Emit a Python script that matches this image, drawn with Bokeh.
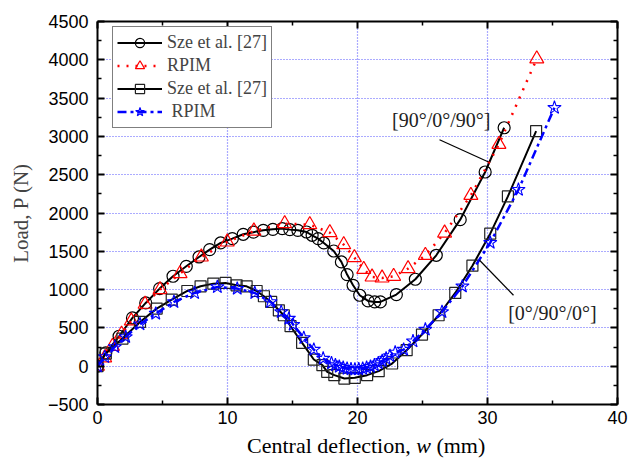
from bokeh.plotting import figure
from bokeh.layouts import column
from bokeh.models import (Label, Legend, LegendItem, LinearAxis, FixedTicker,
                          Range1d, Div, CustomLabelingPolicy)
from bokeh.embed import file_html
from bokeh.resources import INLINE

# ---- data ----
sze_a_x = [0, 0.64, 1.66, 2.69, 3.71, 4.78, 5.81, 6.83, 7.81, 8.63, 9.47, 10.37,
           11.21, 12.0, 12.75, 13.49, 14.21, 14.79, 15.41, 16.08, 16.51, 16.97,
           17.41, 18.17, 18.76, 19.2, 19.66, 20.17, 20.81, 21.32, 21.76, 22.99,
           24.45, 26.06, 27.9, 29.82, 31.28]
sze_a_y = [0, 174, 391, 630, 826, 1013, 1174, 1304, 1426, 1522, 1609, 1665,
           1722, 1750, 1774, 1787, 1796, 1783, 1774, 1752, 1709, 1665,
           1609, 1504, 1361, 1196, 1056, 926, 852, 839, 839, 935,
           1135, 1448, 1913, 2535, 3113]

rpim_a_x = [0, 0.55, 1.15, 1.85, 2.6, 3.66, 4.81, 6.35, 7.99, 9.98, 12.03, 14.4,
            16.33, 17.87, 18.94, 19.76, 20.48, 21.12, 21.89, 22.78, 23.89, 25.22,
            26.7, 28.72, 30.88, 33.79]
rpim_a_y = [0, 110, 260, 420, 591, 809, 1000, 1209, 1426, 1622, 1765, 1861,
            1848, 1744, 1587, 1418, 1265, 1165, 1152, 1174, 1274, 1448,
            1739, 2230, 2896, 4013]

sze_b_x = [0, 0.64, 1.92, 3.27, 4.55, 5.71, 6.91, 7.93, 8.91, 9.85, 10.7, 11.47,
           12.24, 12.8, 13.36, 13.95, 14.33, 14.85, 15.74, 16.64, 17.3, 17.67,
           18.22, 18.99, 19.79, 20.74, 21.63, 22.66, 23.78, 24.96, 26.24, 27.52,
           28.84, 30.21, 31.57, 33.74]
sze_b_y = [0, 165, 361, 578, 752, 870, 982, 1043, 1078, 1087, 1056, 1043,
           982, 913, 839, 730, 665, 522, 304, 87, 13, -74,
           -117, -161, -152, -117, -65, 35, 209, 413, 665, 956,
           1312, 1730, 2217, 3069]

rpim_b_x = [0, 0.56, 1.33, 2.17, 3.27, 4.48, 5.88, 7.47, 9.22, 10.75, 12.1, 13.31,
            14.13, 14.72, 15.05, 15.87, 16.64, 17.36, 18.0, 18.3, 18.6, 18.9,
            19.2, 19.5, 19.8, 20.1, 20.4, 20.7, 21.0, 21.3, 21.6, 21.9, 22.2,
            22.5, 22.9, 23.55, 24.27, 25.22, 26.5, 28.07, 30.21, 32.38, 35.15]
rpim_b_y = [0, 121, 252, 383, 548, 687, 839, 956, 1035, 1013, 956, 839,
            709, 622, 543, 369, 217, 100, 40, 15, -5, -20,
            -32, -40, -43, -40, -32, -20, -5, 15, 40, 70, 100,
            135, 180, 217, 326, 479, 709, 1043, 1613, 2304, 3374]

legend_labels = ["Sze et al. [27]", "RPIM", "Sze et al. [27]", " RPIM"]

x_ticks = [0, 10, 20, 30, 40]
x_minor = [5, 15, 25, 35]
y_ticks = [-500, 0, 500, 1000, 1500, 2000, 2500, 3000, 3500, 4000, 4500]
y_minor = [-250, 250, 750, 1250, 1750, 2250, 2750, 3250, 3750, 4250]

note_a_text = "[90°/0°/90°]"
note_a_pos = (22.66, 3209)
note_a_line_x = [26.31, 30.08]
note_a_line_y = [2956, 2665]
note_b_text = "[0°/90°/0°]"
note_b_pos = (31.59, 691)
note_b_line_x = [29.39, 32.0]
note_b_line_y = [1383, 926]

serif = "Liberation Serif"
sans = "Liberation Sans"

p = figure(width=635, height=434, output_backend="svg", toolbar_location=None,
           x_range=Range1d(0, 40), y_range=Range1d(-500, 4500),
           min_border_left=97, min_border_right=18, min_border_top=21,
           min_border_bottom=30, x_axis_location=None, y_axis_location=None)
p.outline_line_color = None
p.background_fill_color = "white"

hide_labels = CustomLabelingPolicy(
    code="const all = [...indices]; for (const i of all) indices.unset(i); return indices")


def style_axis(ax, ticks, minor, labels=True):
    ax.ticker = FixedTicker(ticks=ticks, minor_ticks=minor)
    ax.axis_line_width = 2
    ax.axis_line_color = "black"
    ax.major_tick_in = 7
    ax.major_tick_out = 0
    ax.minor_tick_in = 4
    ax.minor_tick_out = 0
    ax.major_tick_line_width = 2
    ax.minor_tick_line_width = 1.5
    ax.major_tick_line_color = "black"
    ax.minor_tick_line_color = "black"
    ax.major_label_text_font = sans
    ax.major_label_text_font_size = "18px"
    ax.major_label_text_color = "black"
    if not labels:
        ax.major_label_policy = hide_labels
        ax.major_label_text_font_size = "0px"
        ax.major_label_standoff = 0


xb = LinearAxis()
style_axis(xb, x_ticks, x_minor)
xb.major_label_standoff = 6
p.add_layout(xb, "below")

yl = LinearAxis(axis_label="Load, P (N)")
style_axis(yl, y_ticks, y_minor)
yl.major_label_standoff = 9
yl.axis_label_text_font = serif
yl.axis_label_text_font_style = "normal"
yl.axis_label_text_font_size = "21px"
yl.axis_label_standoff = 12
p.add_layout(yl, "left")

xt = LinearAxis()
style_axis(xt, x_ticks, x_minor, labels=False)
p.add_layout(xt, "above")

yr = LinearAxis()
style_axis(yr, y_ticks, y_minor, labels=False)
p.add_layout(yr, "right")

p.xgrid.ticker = FixedTicker(ticks=[10, 20, 30])
p.ygrid.ticker = FixedTicker(ticks=y_ticks[1:-1])
for g in (p.xgrid, p.ygrid):
    g.grid_line_color = "#1f1fff"
    g.grid_line_dash = "1 2"
    g.grid_line_width = 1.2
    g.grid_line_alpha = 0.75

# series
l1 = p.line(sze_a_x, sze_a_y, line_color="black", line_width=2)
m1 = p.scatter(sze_a_x, sze_a_y, marker="circle", size=12, line_color="black",
               fill_alpha=0.0, line_width=1.2)
l2 = p.line(rpim_a_x, rpim_a_y, line_color="red", line_width=2.5, line_dash="2 7")
m2 = p.scatter(rpim_a_x, rpim_a_y, marker="triangle", size=14, line_color="red",
               fill_alpha=0.0, line_width=1.2)
l3 = p.line(sze_b_x, sze_b_y, line_color="black", line_width=2)
m3 = p.scatter(sze_b_x, sze_b_y, marker="square", size=11, line_color="#222222",
               fill_alpha=0.0, line_width=1.2)
l4 = p.line(rpim_b_x, rpim_b_y, line_color="blue", line_width=2.5,
            line_dash="9 4 3 4")
m4 = p.scatter(rpim_b_x, rpim_b_y, marker="star", size=14, line_color="blue",
               fill_alpha=0.0, line_width=1.1)

# annotations
p.line(note_a_line_x, note_a_line_y, line_color="black", line_width=1.2)
p.line(note_b_line_x, note_b_line_y, line_color="black", line_width=1.2)
p.add_layout(Label(x=note_a_pos[0], y=note_a_pos[1], text=note_a_text,
                   text_font=serif, text_font_size="20px", text_color="#222222",
                   text_baseline="middle", text_align="left"))
p.add_layout(Label(x=note_b_pos[0], y=note_b_pos[1], text=note_b_text,
                   text_font=serif, text_font_size="20px", text_color="#222222",
                   text_baseline="middle", text_align="left"))

legend = Legend(items=[
    LegendItem(label=legend_labels[0], renderers=[l1, m1]),
    LegendItem(label=legend_labels[1], renderers=[l2, m2]),
    LegendItem(label=legend_labels[2], renderers=[l3, m3]),
    LegendItem(label=legend_labels[3], renderers=[l4, m4]),
], location=(15, 276))
legend.label_text_font = serif
legend.label_text_font_size = "18px"
legend.glyph_width = 45
legend.glyph_height = 23
legend.label_height = 18
legend.label_standoff = 5
legend.spacing = 0
legend.padding = 4
legend.margin = 0
legend.border_line_color = "black"
legend.border_line_width = 1.5
legend.background_fill_alpha = 1.0
p.add_layout(legend)

xtitle = Div(
    text='<div style="font-family: \'Liberation Serif\'; font-size: 22px; '
         'line-height: 24px; color: black; padding-left: 247px; white-space: nowrap;">'
         'Central deflection, <i>w</i> (mm)</div>',
    width=635, height=31, margin=(0, 0, 0, 0))

layout = column(p, xtitle, spacing=0)
open("out.html", "w").write(file_html(layout, INLINE))
